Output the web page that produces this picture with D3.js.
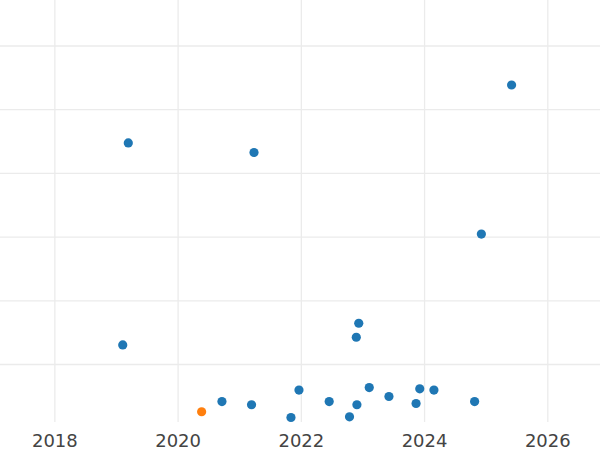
<!DOCTYPE html>
<meta charset="utf-8">
<title>Scatter by year</title>
<style>
  body { margin: 0; background: #fff; }
  .grid line { stroke: #ebebeb; stroke-width: 1.3px; }
  .grid .domain { display: none; }
  .x.axis text { font: 18px "DejaVu Sans", sans-serif; fill: #444; }
  .x.axis .domain, .x.axis line { display: none; }
</style>
<body>
<div id="chart"></div>
<script src="https://d3js.org/d3.v7.min.js"></script>
<script>
  // decimal year of each point
  var years = [2019.20, 2021.24, 2025.42, 2024.93, 2019.11, 2020.72, 2021.20, 2021.84,
               2021.97, 2022.46, 2022.79, 2022.91, 2022.94, 2022.90, 2023.11, 2023.43,
               2023.87, 2023.93, 2024.16, 2024.82, 2020.39];
  var values = [44.7, 43.2, 53.8, 30.4, 13.0, 4.1, 3.6, 1.6,
                5.9, 4.1, 1.7, 3.6, 16.4, 14.2, 6.3, 4.9,
                3.8, 6.1, 5.9, 4.1, 2.5];
  // the last point is highlighted
  var groups = ["a", "a", "a", "a", "a", "a", "a", "a",
                "a", "a", "a", "a", "a", "a", "a", "a",
                "a", "a", "a", "a", "b"];
  var xTicks = [2018, 2020, 2022, 2024, 2026];
  var yTicks = [10, 20, 30, 40, 50, 60];

  var width = 600, height = 450, plotBottom = 422;

  var svg = d3.select("#chart").append("svg")
      .attr("width", width)
      .attr("height", height);

  var x = d3.scaleLinear().domain([2017.118, 2026.855]).range([0, width]);
  var y = d3.scaleLinear().domain([0, 67.14]).range([427.7, 0]);
  var color = d3.scaleOrdinal().domain(["a", "b"]).range(["#1f77b4", "#ff7f0e"]);

  // horizontal grid
  svg.append("g")
      .attr("class", "grid")
      .call(d3.axisLeft(y).tickValues(yTicks).tickSize(-width).tickFormat(""));

  // vertical grid
  svg.append("g")
      .attr("class", "grid")
      .attr("transform", "translate(0," + plotBottom + ")")
      .call(d3.axisBottom(x).tickValues(xTicks).tickSize(-plotBottom).tickFormat(""));

  // x labels
  svg.append("g")
      .attr("class", "x axis")
      .attr("transform", "translate(0," + plotBottom + ")")
      .call(d3.axisBottom(x).tickValues(xTicks).tickFormat(d3.format("d")).tickSize(0).tickPadding(12));

  var pts = years.map(function(d, i) { return {year: d, value: values[i], group: groups[i]}; });

  svg.append("g").selectAll("circle")
      .data(pts)
      .enter().append("circle")
      .attr("r", 4.6)
      .attr("cx", function(d) { return x(d.year); })
      .attr("cy", function(d) { return y(d.value); })
      .attr("fill", function(d) { return color(d.group); });
</script>
</body>
